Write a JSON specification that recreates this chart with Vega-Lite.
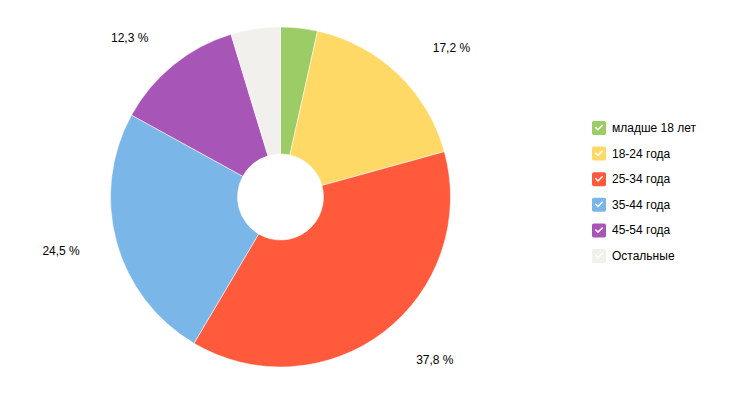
{
  "$schema": "https://vega.github.io/schema/vega-lite/v6.json",
  "width": 561,
  "height": 394,
  "padding": 0,
  "autosize": {"type": "pad"},
  "background": "white",
  "data": {
    "values": [
      {"group": "младше 18 лет", "value": 3.5, "order": 1},
      {"group": "18-24 года", "value": 17.2, "order": 2},
      {"group": "25-34 года", "value": 37.8, "order": 3},
      {"group": "35-44 года", "value": 24.5, "order": 4},
      {"group": "45-54 года", "value": 12.3, "order": 5},
      {"group": "Остальные", "value": 4.7, "order": 6}
    ]
  },
  "layer": [
    {
      "mark": {"type": "arc", "outerRadius": 170, "innerRadius": 43, "stroke": "white", "strokeWidth": 0.5},
      "encoding": {
        "theta": {"field": "value", "type": "quantitative", "stack": true, "scale": {"domain": [0, 100]}},
        "order": {"field": "order", "type": "quantitative"},
        "color": {
          "field": "group",
          "type": "nominal",
          "sort": ["младше 18 лет", "18-24 года", "25-34 года", "35-44 года", "45-54 года", "Остальные"],
          "scale": {
            "domain": ["младше 18 лет", "18-24 года", "25-34 года", "35-44 года", "45-54 года", "Остальные"],
            "range": ["#9BCC65", "#FFD966", "#FF5A3C", "#7AB6E8", "#A855B8", "#F1F0EC"]
          },
          "legend": {
            "orient": "none",
            "legendX": 592,
            "legendY": 121,
            "title": null,
            "padding": 0,
            "symbolType": "M-0.75,-1 H0.75 Q1,-1 1,-0.75 V0.75 Q1,1 0.75,1 H-0.75 Q-1,1 -1,0.75 V-0.75 Q-1,-1 -0.75,-1 Z M-0.6,-0.05 L-0.15,0.4 L0.6,-0.35 L0.45,-0.5 L-0.15,0.1 L-0.45,-0.2 Z",
            "symbolSize": 196,
            "symbolStrokeWidth": 0,
            "symbolOpacity": 1,
            "labelFontSize": 12,
            "labelFont": "Liberation Sans",
            "labelColor": "#000000",
            "labelOffset": 6,
            "rowPadding": 11.6
          }
        }
      }
    },
    {
      "transform": [
        {"stack": "value", "groupby": [], "sort": [{"field": "order", "order": "ascending"}], "as": ["v0", "v1"]},
        {"calculate": "(datum.v0 + datum.v1) / 2", "as": "mid"},
        {"calculate": "replace(format(datum.value, '.1f'), '.', ',') + ' %'", "as": "label"},
        {"filter": "datum.value > 10 && datum.mid < 50"}
      ],
      "mark": {"type": "text", "radius": 205, "fontSize": 12, "font": "Liberation Sans", "fill": "#000000", "align": "left", "baseline": "middle", "dx": 11},
      "encoding": {
        "theta": {"field": "mid", "type": "quantitative", "stack": null, "scale": {"domain": [0, 100]}},
        "text": {"field": "label", "type": "nominal"}
      }
    },
    {
      "transform": [
        {"stack": "value", "groupby": [], "sort": [{"field": "order", "order": "ascending"}], "as": ["v0", "v1"]},
        {"calculate": "(datum.v0 + datum.v1) / 2", "as": "mid"},
        {"calculate": "replace(format(datum.value, '.1f'), '.', ',') + ' %'", "as": "label"},
        {"filter": "datum.value > 10 && datum.mid >= 50"}
      ],
      "mark": {"type": "text", "radius": 205, "fontSize": 12, "font": "Liberation Sans", "fill": "#000000", "align": "right", "baseline": "middle", "dx": -3},
      "encoding": {
        "theta": {"field": "mid", "type": "quantitative", "stack": null, "scale": {"domain": [0, 100]}},
        "text": {"field": "label", "type": "nominal"}
      }
    }
  ],
  "config": {"view": {"stroke": null}}
}
